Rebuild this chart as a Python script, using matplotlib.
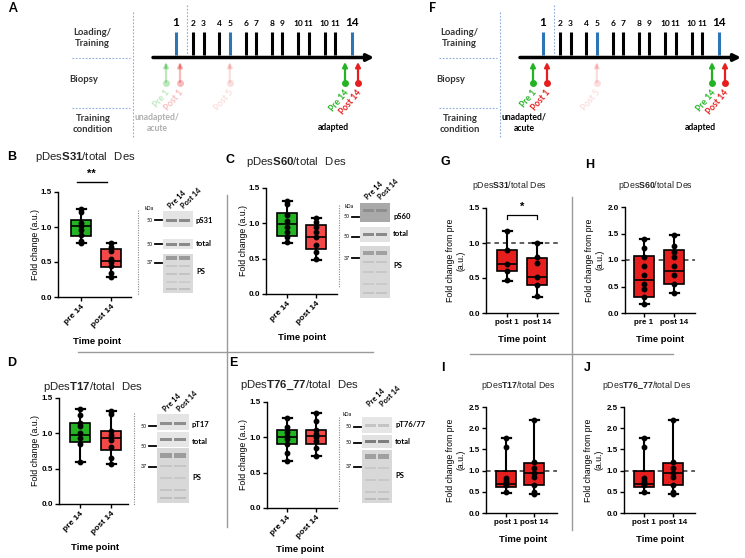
import numpy as np
import matplotlib
matplotlib.use('Agg')
import matplotlib.pyplot as plt
from matplotlib.patches import Rectangle

# ---- style ---------------------------------------------------------------
plt.rcParams.update({
    "font.family": ["Liberation Sans", "DejaVu Sans"],
    "mathtext.fontset": "custom",
    "mathtext.rm": "Liberation Sans",
    "mathtext.bf": "Liberation Sans:bold",
    "axes.linewidth": 1.0,
})
SCHEME_FONT = ["Lato", "DejaVu Sans"]

GREEN = "#23b323"
RED_LT = "#f44848"
RED = "#e61e1e"
BLUE = "#2e75b6"
SEP = "#9a9a9a"
DOT = "#8eaadb"

# ---- data ----------------------------------------------------------------
SESSIONS = ["1", "2", "3", "4", "5", "6", "7", "8", "9", "10", "11", "10", "11", "14"]
BLUE_SESSIONS = [0, 4, 13]
BIOPSIES = ["Pre 1", "Post 1", "Post 5", "Pre 14", "Post 14"]

# box stats: [whisker low, q1, median, q3, whisker high]
B_PRE_BOX  = [0.77, 0.87, 1.01, 1.10, 1.25]
B_POST_BOX = [0.29, 0.43, 0.52, 0.68, 0.77]
B_PRE_PTS  = [1.25, 1.22, 1.05, 1.01, 0.95, 0.88, 0.80, 0.77]
B_POST_PTS = [0.77, 0.72, 0.65, 0.55, 0.50, 0.45, 0.35, 0.29]

C_PRE_BOX  = [0.72, 0.82, 0.99, 1.15, 1.31]
C_POST_BOX = [0.48, 0.63, 0.80, 0.97, 1.07]
C_PRE_PTS  = [1.31, 1.28, 1.12, 1.04, 0.95, 0.88, 0.80, 0.73]
C_POST_PTS = [1.07, 1.02, 0.95, 0.88, 0.80, 0.70, 0.60, 0.49]

D_PRE_BOX  = [0.59, 0.88, 0.97, 1.15, 1.35]
D_POST_BOX = [0.56, 0.76, 0.94, 1.03, 1.32]
D_PRE_PTS  = [1.35, 1.26, 1.15, 1.10, 1.00, 0.93, 0.85, 0.60]
D_POST_PTS = [1.32, 1.28, 1.03, 0.98, 0.90, 0.80, 0.65, 0.56]

E_PRE_BOX  = [0.66, 0.90, 1.00, 1.11, 1.27]
E_POST_BOX = [0.74, 0.91, 1.02, 1.11, 1.35]
E_PRE_PTS  = [1.27, 1.15, 1.08, 1.02, 0.97, 0.90, 0.78, 0.66]
E_POST_PTS = [1.35, 1.23, 1.10, 1.05, 1.00, 0.95, 0.85, 0.74]

G_POST1_BOX  = [0.46, 0.60, 0.70, 0.90, 1.17]
G_POST14_BOX = [0.23, 0.40, 0.51, 0.78, 1.00]
G_POST1_PTS  = [1.17, 0.90, 0.70, 0.60, 0.47]
G_POST14_PTS = [1.00, 0.80, 0.71, 0.52, 0.40, 0.25]

H_PRE1_BOX   = [0.17, 0.30, 0.62, 1.08, 1.40]
H_POST14_BOX = [0.37, 0.55, 0.80, 1.18, 1.48]
H_PRE1_PTS   = [1.40, 1.23, 1.05, 0.88, 0.72, 0.55, 0.45, 0.30, 0.17]
H_POST14_PTS = [1.48, 1.27, 1.15, 1.05, 0.88, 0.72, 0.55, 0.37]

I_POST1_BOX  = [0.46, 0.61, 0.69, 0.99, 1.78]
I_POST14_BOX = [0.44, 0.66, 0.95, 1.17, 2.20]
I_POST1_PTS  = [1.78, 1.55, 0.82, 0.75, 0.70, 0.65, 0.50]
I_POST14_PTS = [2.20, 1.20, 1.05, 0.95, 0.85, 0.65, 0.50, 0.45]

J_POST1_BOX  = [0.46, 0.61, 0.69, 0.99, 1.78]
J_POST14_BOX = [0.44, 0.66, 0.95, 1.17, 2.20]
J_POST1_PTS  = [1.78, 1.55, 0.82, 0.75, 0.70, 0.65, 0.50]
J_POST14_PTS = [2.20, 1.20, 1.05, 0.95, 0.85, 0.65, 0.50, 0.45]

PRE_POST_14 = ["pre 14", "post 14"]

# ---- canvas (pixel coords overlay) ---------------------------------------
W, H = 745, 558
fig = plt.figure(figsize=(7.45, 5.58), dpi=100)
bg = fig.add_axes([0, 0, 1, 1], zorder=0)
bg.set_xlim(0, W); bg.set_ylim(H, 0)
bg.axis('off')


def txt(x, y, s, size=7, weight='normal', color='k', family=None, **kw):
    kw.setdefault('ha', 'center'); kw.setdefault('va', 'center')
    bg.text(x, y, s, fontsize=size, fontweight=weight, color=color,
            family=family or plt.rcParams['font.family'], **kw)


def hline(y, x0, x1, **kw):
    bg.plot([x0, x1], [y, y], **kw)


def vline(x, y0, y1, **kw):
    bg.plot([x, x], [y0, y1], **kw)


# ---- timeline schematic --------------------------------------------------
def timeline(dx, letter, letter_x, pre1_alpha, post1_alpha, acute_color):
    dot = dict(color=DOT, lw=0.8, ls=(0, (1.5, 1.5)))
    vline(133 + dx, 12, 138, **dot)
    vline(187 + dx, 5, 55, **dot)
    hline(58, 72 + dx, 130 + dx, **dot)
    hline(108, 72 + dx, 130 + dx, **dot)

    txt(letter_x, 8, letter, size=9, weight='bold', family=SCHEME_FONT)
    txt(92 + dx, 38, "Loading/\nTraining", size=6.8, weight='bold',
        color='#333333', family=SCHEME_FONT, linespacing=1.3)
    txt(84 + dx, 80, "Biopsy", size=6.8, weight='bold', color='#333333',
        family=SCHEME_FONT)
    txt(93 + dx, 124, "Training\ncondition", size=6.8, weight='bold',
        color='#333333', family=SCHEME_FONT, linespacing=1.3)

    # main arrow
    bg.annotate('', xy=(374 + dx, 57.5), xytext=(153 + dx, 57.5),
                arrowprops=dict(arrowstyle='-|>', color='k', lw=2.5,
                                mutation_scale=10, shrinkA=0, shrinkB=0))
    # session bars: single first, six pairs, last
    pos = [176.0]
    for k in range(6):
        pos += [193 + 26.3 * k, 203.5 + 26.3 * k]
    pos.append(352.0)
    for i, (lab, x) in enumerate(zip(SESSIONS, pos)):
        c = BLUE if i in BLUE_SESSIONS else 'k'
        vline(x + dx, 32, 55, color=c, lw=2.2, solid_capstyle='butt')
        big = i in (0, len(SESSIONS) - 1)
        txt(x + dx, 23, lab, size=8.5 if big else 6, weight='bold',
            family=SCHEME_FONT)

    # biopsies
    bx = [pos[0] - 10, pos[0] + 4, pos[4], pos[-1] - 7, pos[-1] + 6]
    cols = [GREEN, RED, RED, GREEN, RED]
    alphas = [pre1_alpha, post1_alpha, 0.15, 1, 1]
    for name, x, c, a in zip(BIOPSIES, bx, cols, alphas):
        x = x + dx
        bg.annotate('', xy=(x, 62), xytext=(x, 82),
                    arrowprops=dict(arrowstyle='-|>', color=c, lw=1.6,
                                    mutation_scale=7, shrinkA=0, shrinkB=0,
                                    alpha=a))
        bg.plot(x, 83, 'o', color=c, ms=5, alpha=a, mec='none')
        bg.text(x + 2, 91, name, rotation=50, rotation_mode='anchor',
                ha='right', va='center', fontsize=6.2, fontweight='bold',
                color=c, alpha=a, family=SCHEME_FONT)

    txt(157 + dx, 123, "unadapted/\nacute", size=6.2, weight='bold',
        color=acute_color, family=SCHEME_FONT, linespacing=1.4)
    txt(333 + dx, 128, "adapted", size=6.2, weight='bold', family=SCHEME_FONT)


timeline(0, "A", 12, 0.3, 0.3, '#b0b0b0')
timeline(367, "F", 433, 1, 1, 'k')


# ---- box panels ----------------------------------------------------------
def box_panel(frame, ymax, boxes, pts, labels, colors, rotated, ylabel,
              ylab_dx, refline=False):
    left, right, top, bottom, x1, x2 = frame
    ax = fig.add_axes([left / W, 1 - bottom / H, (right - left) / W,
                       (bottom - top) / H], zorder=2)
    ax.patch.set_alpha(0)
    s = x2 - x1
    ax.set_xlim(1 - (x1 - left) / s, 1 + (right - x1) / s)
    ax.set_ylim(0, ymax)
    stats = [dict(whislo=b[0], q1=b[1], med=b[2], q3=b[3], whishi=b[4])
             for b in boxes]
    bp = ax.bxp(stats, positions=[1, 2], widths=20 / s, capwidths=9 / s,
                showfliers=False, patch_artist=True,
                boxprops=dict(lw=1.2, edgecolor='k'),
                medianprops=dict(color='k', lw=1.2),
                whiskerprops=dict(lw=1.5, color='k'),
                capprops=dict(lw=1.6, color='k'))
    for patch, c in zip(bp['boxes'], colors):
        patch.set_facecolor(c)
    for p, vals in zip([1, 2], pts):
        ax.plot([p] * len(vals), vals, 'o', color='k', ms=3.2, zorder=5,
                clip_on=False)
    if refline:
        ax.axhline(1.0, color='#333333', lw=1.1, ls=(0, (3, 2.5)), zorder=1)
    for sp in ('top', 'right'):
        ax.spines[sp].set_visible(False)
    yt = np.arange(0, ymax + 0.01, 0.5)
    ax.set_yticks(yt)
    ax.set_yticklabels([f"{v:.1f}" for v in yt], fontsize=5.8,
                       fontweight='bold')
    ax.set_xticks([1, 2])
    if rotated:
        ax.set_xticklabels(labels, rotation=45, ha='right',
                           rotation_mode='anchor', fontsize=6,
                           fontweight='bold')
    else:
        ax.set_xticklabels(labels, fontsize=5.8, fontweight='bold')
    ax.tick_params(length=3, width=1, pad=1.5)
    txt(left + ylab_dx, (top + bottom) / 2, ylabel, size=6.3, rotation=90,
        linespacing=1.15)
    return ax


# B
ax = box_panel((58, 131, 192, 297, 81, 111), 1.5, [B_PRE_BOX, B_POST_BOX],
               [B_PRE_PTS, B_POST_PTS], PRE_POST_14, [GREEN, RED_LT], True,
               "Fold change (a.u.)", -23)
ax.plot([0.86, 1.87], [1.64, 1.64], color='k', lw=1, clip_on=False)
ax.text(1.35, 1.69, "**", ha='center', va='bottom', fontsize=8,
        fontweight='bold')
# C
box_panel((266, 337, 188, 294, 287, 316), 1.5, [C_PRE_BOX, C_POST_BOX],
          [C_PRE_PTS, C_POST_PTS], PRE_POST_14, [GREEN, RED_LT], True,
          "Fold change (a.u.)", -23)
# D
box_panel((59, 128, 398, 504, 80, 111), 1.5, [D_PRE_BOX, D_POST_BOX],
          [D_PRE_PTS, D_POST_PTS], PRE_POST_14, [GREEN, RED_LT], True,
          "Fold change (a.u.)", -23)
# E
box_panel((267, 337, 402, 508, 287, 316), 1.5, [E_PRE_BOX, E_POST_BOX],
          [E_PRE_PTS, E_POST_PTS], PRE_POST_14, [GREEN, RED_LT], True,
          "Fold change (a.u.)", -23)
# G
ax = box_panel((486, 558, 208, 313, 507, 537), 1.5,
               [G_POST1_BOX, G_POST14_BOX], [G_POST1_PTS, G_POST14_PTS],
               ["post 1", "post 14"], [RED, RED], False,
               "Fold change from pre\n(a.u.)", -30, refline=True)
ax.plot([1, 1, 2, 2], [1.34, 1.40, 1.40, 1.34], color='k', lw=0.9,
        clip_on=False)
ax.text(1.5, 1.44, "*", ha='center', va='bottom', fontsize=8,
        fontweight='bold')
# H
box_panel((625, 695, 207, 313, 644, 674), 2.0, [H_PRE1_BOX, H_POST14_BOX],
          [H_PRE1_PTS, H_POST14_PTS], ["pre 1", "post 14"], [RED, RED],
          False, "Fold change from pre\n(a.u.)", -30, refline=True)
# I
box_panel((486, 557, 407, 513, 506, 534), 2.5, [I_POST1_BOX, I_POST14_BOX],
          [I_POST1_PTS, I_POST14_PTS], ["post 1", "post 14"], [RED, RED],
          False, "Fold change from pre\n(a.u.)", -30, refline=True)
# J
box_panel((624, 695, 407, 513, 644, 673), 2.5, [J_POST1_BOX, J_POST14_BOX],
          [J_POST1_PTS, J_POST14_PTS], ["post 1", "post 14"], [RED, RED],
          False, "Fold change from pre\n(a.u.)", -30, refline=True)

# panel letters, titles, x labels
for lab, x, y in [("B", 12, 157), ("C", 230, 160), ("D", 12, 363),
                  ("E", 233, 363), ("G", 445, 162), ("H", 590, 165),
                  ("I", 443, 368), ("J", 587, 368)]:
    txt(x, y, lab, size=9, weight='bold')

for site, x, y, sz in [("S31", 85, 157, 8.2), ("S60", 296, 162, 8.2),
                       ("T17", 93, 387, 8.2), (r"T76\_77", 299, 385, 8.2),
                       ("S31", 510, 185, 6.3), ("S60", 656, 185, 6.3),
                       ("T17", 518, 385, 6.3), (r"T76\_77", 647, 385, 6.3)]:
    gap = r"\ \ " if sz > 7 else r"\ "
    txt(x, y, r"$\mathrm{pDes}\mathbf{" + site + r"}\mathrm{/total" + gap
        + r"Des}$", size=sz, color='#222222')

for x, y in [(97, 341), (302, 338), (95, 547), (300, 550),
             (522, 339), (660, 339), (523, 539), (660, 539)]:
    txt(x, y, "Time point", size=6.8, weight='bold')

# separators
vline(226.5, 195, 527, color=SEP, lw=1)
hline(352, 78, 373, color=SEP, lw=1)
vline(572, 197, 530, color=SEP, lw=1)
hline(354, 470, 673, color=SEP, lw=1)


# ---- western blot insets -------------------------------------------------
def blot(x0, x1, strips, names, markers, dotted, head_y, kda=None):
    w = x1 - x0
    lanes = [x0 + 0.28 * w, x0 + 0.72 * w]
    for (y0, y1, fc, bands) in strips:
        bg.add_patch(Rectangle((x0, y0), w, y1 - y0, fc=fc, ec='none'))
        for (yb, hb, c) in bands:
            for lx in lanes:
                bg.add_patch(Rectangle((lx - 0.19 * w, yb - hb / 2),
                                       0.38 * w, hb, fc=c, ec='none'))
    for name, y in names:
        txt(x1 + 3, y, name, size=5.5, weight='bold', ha='left',
            family=SCHEME_FONT)
    for m, y in markers:
        hline(y, x0 - 8, x0 - 1, color='k', lw=1.3)
        txt(x0 - 10, y, m, size=3.8, ha='right', family=SCHEME_FONT)
    if kda:
        txt(kda[0], kda[1], "kDa", size=3.8, family=SCHEME_FONT)
    vline(dotted[0], dotted[1], dotted[2], color='#888888', lw=0.8,
          ls=(0, (1, 1.2)))
    for lab, lx in zip(["Pre 14", "Post 14"], lanes):
        bg.text(lx - 2, head_y, lab, rotation=45, rotation_mode='anchor',
                ha='left', va='center', fontsize=5.3, fontweight='bold',
                family=SCHEME_FONT)


blot(163, 193,
     [(211, 227, '#e4e4e4', [(220, 3, '#8a8a8a')]),
      (239, 249, '#e6e6e6', [(244, 3, '#8a8a8a')]),
      (254, 293, '#dadada', [(258, 4, '#9a9a9a'), (266, 2, '#c8c8c8'),
                             (274, 2, '#c4c4c4'), (282, 2, '#cccccc'),
                             (289, 2, '#c0c0c0')])],
     [("pS31", 220), ("total", 244), ("PS", 272)],
     [("50", 220), ("50", 244), ("37", 263)], (138, 210, 295), 207,
     kda=(149, 208))

blot(360, 390,
     [(203, 222, '#a9a9a9', [(210, 3, '#8e8e8e')]),
      (227, 242, '#e3e3e3', [(234, 3, '#8a8a8a')]),
      (246, 298, '#d8d8d8', [(253, 4, '#a0a0a0'), (262, 2, '#c6c6c6'),
                             (272, 2, '#c8c8c8'), (284, 2, '#cacaca'),
                             (293, 2, '#c4c4c4')])],
     [("pS60", 216), ("total", 234), ("PS", 266)],
     [("50", 217), ("50", 237), ("37", 258)], (339, 205, 288), 198,
     kda=(349, 207))

blot(157, 189,
     [(414, 430, '#e4e4e4', [(423, 3, '#8e8e8e')]),
      (432, 447, '#e6e6e6', [(439, 3, '#8e8e8e')]),
      (448, 503, '#d8d8d8', [(455, 5, '#9c9c9c'), (466, 2, '#c6c6c6'),
                             (478, 2, '#c8c8c8'), (490, 2, '#c4c4c4'),
                             (498, 2, '#bebebe')])],
     [("pT17", 424), ("total", 442), ("PS", 477)],
     [("50", 426), ("50", 446), ("37", 467)], (134, 413, 505), 410)

blot(362, 392,
     [(417, 433, '#e6e6e6', [(425, 3, '#c4c4c4')]),
      (435, 448, '#e2e2e2', [(441, 3, '#7e7e7e')]),
      (450, 503, '#d8d8d8', [(456, 5, '#a0a0a0'), (468, 2, '#c8c8c8'),
                             (480, 2, '#c8c8c8'), (492, 2, '#c6c6c6'),
                             (499, 2, '#bdbdbd')])],
     [("pT76/77", 424), ("total", 442), ("PS", 475)],
     [("50", 427), ("50", 443), ("37", 467)], (339, 417, 502), 405,
     kda=(347, 414))

fig.savefig("out.png", dpi=100)
